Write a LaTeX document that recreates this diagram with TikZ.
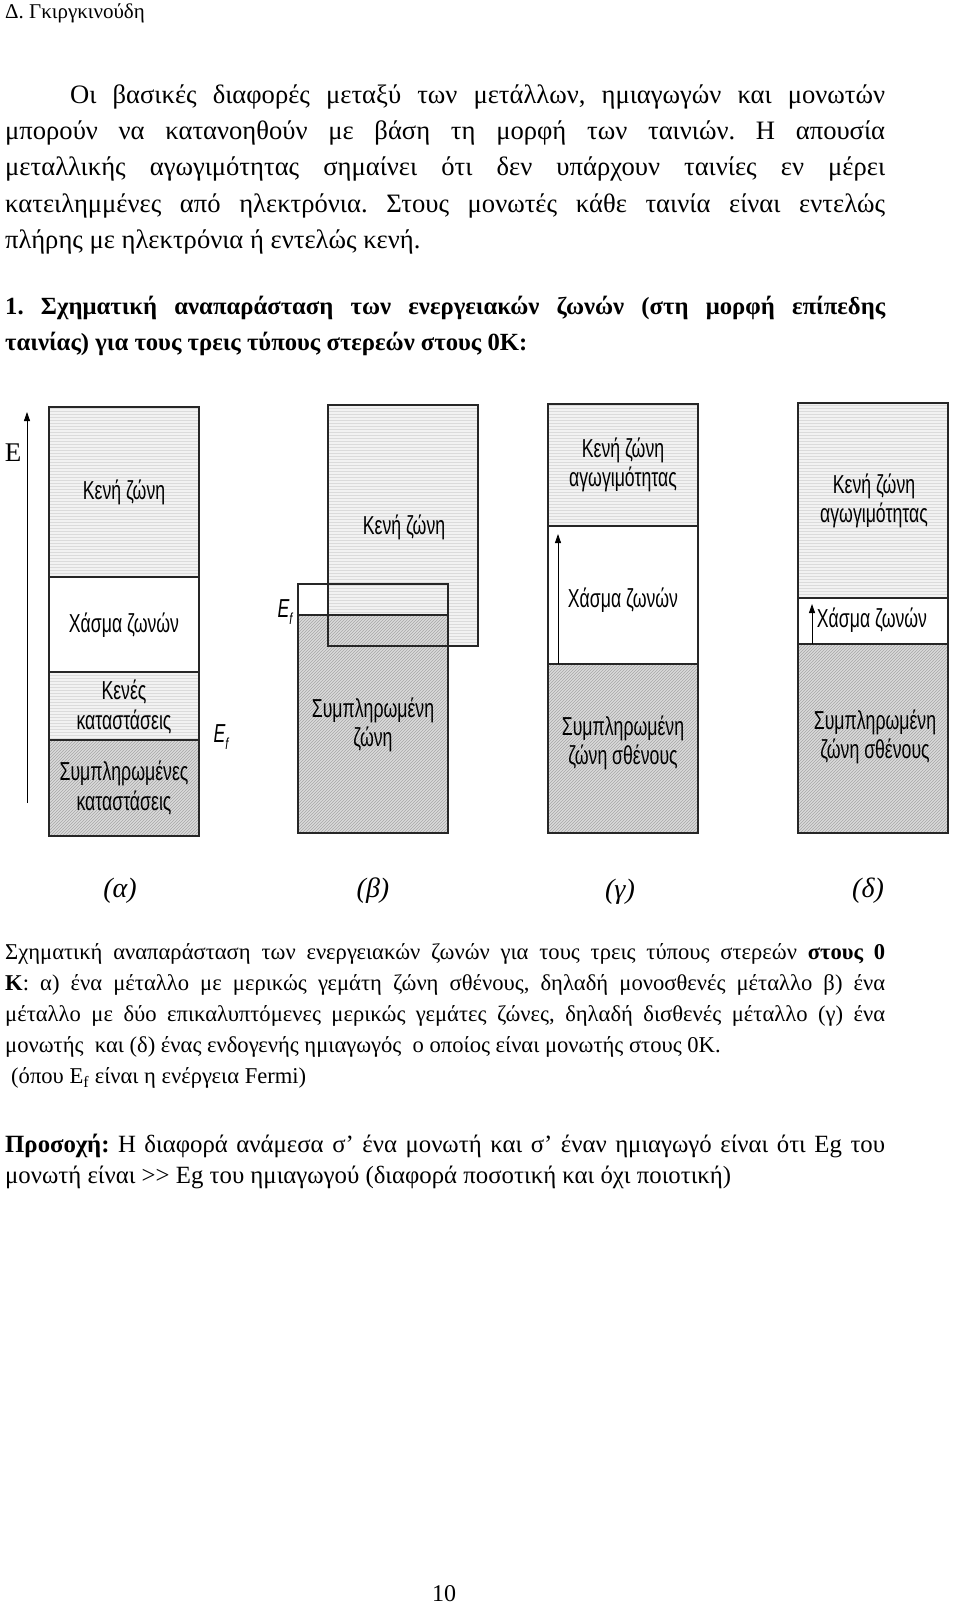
\documentclass[tikz,border=0pt]{standalone}
\usepackage{fontspec}
\setmainfont{Liberation Serif}
\newfontfamily\bandfont[FakeStretch=0.68]{Liberation Sans}
\usetikzlibrary{arrows.meta, patterns}
\tikzset{
  emptyband/.style={draw=black!85, line width=1.3pt, preaction={fill=gray!10}, pattern=horizontal lines, pattern color=gray!28},
  gapband/.style={draw=black!85, line width=1.3pt, fill=white},
  fullband/.style={draw=black!85, line width=1.3pt, preaction={fill=gray!28}, pattern=north east lines, pattern color=gray!70},
  frame/.style={draw=black!85, line width=1.3pt},
  bandtext/.style={font=\bandfont\fontsize{26}{29.5}\selectfont, align=center, inner sep=0pt},
  paneltag/.style={font=\itshape\fontsize{28}{30}\selectfont, inner sep=0pt},
  arrowline/.style={-{Triangle[length=9pt, width=6pt]}, line width=0.8pt},
  bodytext/.style={anchor=base west, inner sep=0pt, text width=880pt, align=justify},
}
\begin{document}
\frenchspacing
\begin{tikzpicture}[x=1pt, y=-1pt]
\useasboundingbox (0,0) rectangle (960,1603);

\node[anchor=base west, inner sep=0pt, font=\fontsize{21}{24}\selectfont] (header) at (5,19) {Δ. Γκιργκινούδη};

\node[bodytext, font=\fontsize{26.6}{36.4}\selectfont] (para) at (5,103)
  {\hspace*{65pt}Οι βασικές διαφορές μεταξύ των μετάλλων, ημιαγωγών και μονωτών\linebreak
   μπορούν να κατανοηθούν με βάση τη μορφή των ταινιών. Η απουσία\linebreak
   μεταλλικής αγωγιμότητας σημαίνει ότι δεν υπάρχουν ταινίες εν μέρει\linebreak
   κατειλημμένες από ηλεκτρόνια. Στους μονωτές κάθε ταινία είναι εντελώς\linebreak
   πλήρης με ηλεκτρόνια ή εντελώς κενή.};

\node[bodytext, font=\bfseries\fontsize{24.7}{36}\selectfont] (heading) at (5,314)
  {1. Σχηματική αναπαράσταση των ενεργειακών ζωνών (στη μορφή επίπεδης\linebreak
   ταινίας) για τους τρεις τύπους στερεών στους 0Κ:};

% energy axis
\coordinate (Ebot) at (27,803);
\coordinate (Etop) at (27,412);
\draw[arrowline] (Ebot) -- (Etop);
\node[font=\fontsize{27}{27}\selectfont, inner sep=0pt] (Elab) at (13,453) {E};

% (a)
\draw[emptyband] (49,407) rectangle (199,577);
\draw[gapband] (49,577) rectangle (199,672);
\draw[emptyband] (49,672) rectangle (199,740);
\draw[fullband] (49,740) rectangle (199,836);
\node[bandtext] (acb) at (124,492) {Κενή ζώνη};
\node[bandtext] (agap) at (124,625) {Χάσμα ζωνών};
\node[bandtext] (aempty) at (124,707) {Κενές\\καταστάσεις};
\node[bandtext] (afull) at (124,788) {Συμπληρωμένες\\καταστάσεις};
\node[bandtext] (aEf) at (221,737) {\itshape E\raisebox{-7pt}{\fontsize{16}{16}\selectfont f}};

% (b)
\draw[emptyband] (328,405) rectangle (478,646);
\draw[fullband, draw=none] (298,615) rectangle (448,833);
\draw[frame] (328,405) rectangle (478,646);
\draw[frame] (298,584) rectangle (448,833);
\draw[frame] (298,615) -- (448,615);
\node[bandtext] (bcb) at (404,527) {Κενή ζώνη};
\node[bandtext] (bvb) at (373,725) {Συμπληρωμένη\\ζώνη};
\node[bandtext] (bEf) at (285,612) {\itshape E\raisebox{-7pt}{\fontsize{16}{16}\selectfont f}};

% (c)
\draw[emptyband] (548,404) rectangle (698,526);
\draw[gapband] (548,526) rectangle (698,664);
\draw[fullband] (548,664) rectangle (698,833);
\node[bandtext] (ccb) at (623,465) {Κενή ζώνη\\αγωγιμότητας};
\node[bandtext] (cgap) at (623,600) {Χάσμα ζωνών};
\node[bandtext] (cvb) at (623,743) {Συμπληρωμένη\\ζώνη σθένους};
\coordinate (cbot) at (558,664);
\coordinate (ctop) at (558,534);
\draw[arrowline] (cbot) -- (ctop);

% (d)
\draw[emptyband] (798,403) rectangle (948,598);
\draw[gapband] (798,598) rectangle (948,644);
\draw[fullband] (798,644) rectangle (948,833);
\node[bandtext] (dcb) at (874,501) {Κενή ζώνη\\αγωγιμότητας};
\node[bandtext] (dgap) at (872,620) {Χάσμα ζωνών};
\node[bandtext] (dvb) at (875,737) {Συμπληρωμένη\\ζώνη σθένους};
\coordinate (dbot) at (812,644);
\coordinate (dtop) at (812,604);
\draw[arrowline] (dbot) -- (dtop);

\node[paneltag] (ta) at (120,891) {(α)};
\node[paneltag] (tb) at (373,891) {(β)};
\node[paneltag] (tc) at (620,892) {(γ)};
\node[paneltag] (td) at (868,891) {(δ)};

\node[bodytext, font=\fontsize{22.6}{31}\selectfont] (caption) at (5,959)
  {Σχηματική αναπαράσταση των ενεργειακών ζωνών για τους τρεις τύπους στερεών \textbf{στους 0}\linebreak
   \textbf{Κ}: α) ένα μέταλλο με μερικώς γεμάτη ζώνη σθένους, δηλαδή μονοσθενές μέταλλο β) ένα\linebreak
   μέταλλο με δύο επικαλυπτόμενες μερικώς γεμάτες ζώνες, δηλαδή δισθενές μέταλλο (γ) ένα\linebreak
   μονωτής\ \ και (δ) ένας ενδογενής ημιαγωγός\ \ ο οποίος είναι μονωτής στους 0Κ.\\
   \hspace*{6pt}(όπου E\textsubscript{f} είναι η ενέργεια Fermi)};

\node[bodytext, font=\fontsize{24.8}{31.5}\selectfont] (note) at (5,1152)
  {\textbf{Προσοχή:} Η διαφορά ανάμεσα σ’ ένα μονωτή και σ’ έναν ημιαγωγό είναι ότι Eg του\linebreak
   μονωτή είναι {>}{>} Eg του ημιαγωγού (διαφορά ποσοτική και όχι ποιοτική)};

\node[anchor=base, inner sep=0pt, font=\fontsize{24}{24}\selectfont] (pagenum) at (444,1601) {10};
\end{tikzpicture}
\end{document}
